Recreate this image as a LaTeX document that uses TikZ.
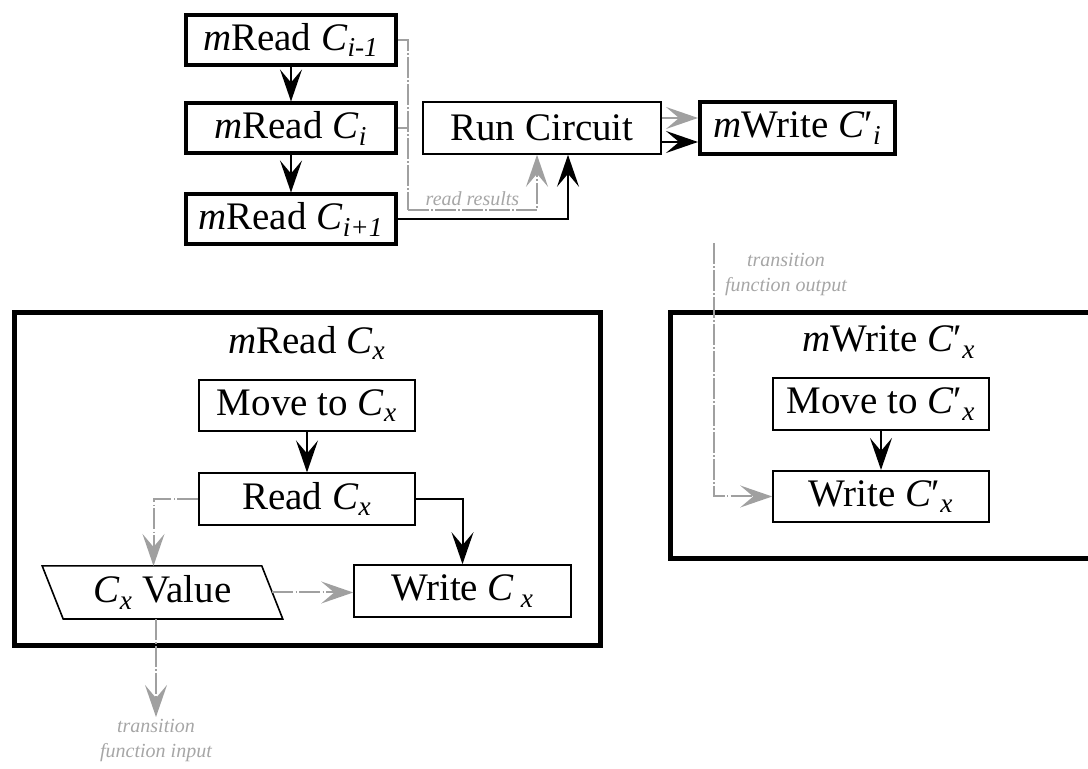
\documentclass[tikz,border=0pt]{standalone}
\usepackage{fontspec}
\setmainfont{Liberation Serif}
\usetikzlibrary{arrows.meta}
\definecolor{FlowInk}{HTML}{000000}
\definecolor{FlowGray}{HTML}{A0A0A0}
\definecolor{FlowLabel}{HTML}{A6A6A6}
\newcommand{\cx}[1]{\textit{C}\textsubscript{\textit{#1}}}
\newcommand{\cpx}[1]{\textit{C}′\textsubscript{\textit{#1}}}
\tikzset{
  stepbox/.style={draw=FlowInk,line width=0.8pt,minimum width=108pt,
    minimum height=25.75pt,inner sep=0pt,
    font=\fontsize{19.5}{22}\selectfont},
  callbox/.style={stepbox,line width=2pt,minimum width=105pt,
    minimum height=25pt},
  groupbox/.style={draw=FlowInk,line width=2.5pt},
  flow/.style={draw=FlowInk,line width=1pt,
    -{Stealth[length=16pt,width=11pt,inset=6.5pt]}},
  dataflow/.style={draw=FlowGray,line width=1pt,
    dash pattern=on 10.5pt off 1.2pt on 0.6pt off 1.2pt,
    -{Stealth[length=16pt,width=11pt,inset=6.5pt]}},
  datalink/.style={dataflow,-},
  note/.style={text=FlowLabel,font=\itshape\fontsize{10}{12.5}\selectfont,
    align=center,inner sep=0pt},
}
\begin{document}
\begin{tikzpicture}[x=0.5pt,y=-0.5pt]
  \clip (0,0) rectangle (1088,769);

  % circuit step
  \node[callbox] (rdPrev) at (291,40) {\textit{m}Read \cx{i-1}};
  \node[callbox] (rdCur) at (291,128.5) {\textit{m}Read \cx{i}};
  \node[callbox] (rdNext) at (291,219.5) {\textit{m}Read \cx{i+1}};
  \node[stepbox,minimum width=119pt,minimum height=26pt] (run) at (542,128)
    {Run Circuit};
  \node[callbox,minimum width=97.5pt,minimum height=26pt] (wrCur)
    at (797.5,128) {\textit{m}Write \cpx{i}};
  \coordinate (rdBus) at (408,210);

  \draw[flow] (rdPrev) -- (rdCur);
  \draw[flow] (rdCur) -- (rdNext);
  \draw[datalink] (rdPrev.east) -| (rdBus);
  \draw[datalink] (rdCur.east) -- (rdCur.east -| rdBus);
  \draw[dataflow] (rdBus) -| ([xshift=-2.5pt]run.south)
    node[note,pos=0.25,above=1.5pt] {read results};
  \draw[flow] (rdNext.east) -| ([xshift=13pt]run.south);
  \draw[dataflow] ([yshift=5pt]run.east) -- ([yshift=5pt]wrCur.west);
  \draw[flow] ([yshift=-7pt]run.east) -- ([yshift=-7pt]wrCur.west);

  % mRead
  \draw[groupbox] (14.5,312.5) rectangle (600.5,645.5);
  \node[stepbox,draw=none] (rdTitle) at (307,343) {\textit{m}Read \cx{x}};
  \node[stepbox] (mvX) at (307,405.5) {Move to \cx{x}};
  \node[stepbox] (rdX) at (307,499) {Read \cx{x}};
  \node[stepbox,draw=none,minimum width=109pt] (valX) at (162.5,592.5)
    {\cx{x} Value};
  \draw[FlowInk,line width=0.8pt]
    ([xshift=-5.25pt]valX.north west) -- ([xshift=-5.25pt]valX.north east)
    -- ([xshift=5.25pt]valX.south east) -- ([xshift=5.25pt]valX.south west)
    -- cycle;
  \node[stepbox,minimum width=108.5pt,minimum height=26pt] (wrX)
    at (462.5,591) {Write \textit{C}\,\textsubscript{\textit{x}}};
  \coordinate (tfIn) at (156,717);

  \draw[flow] (mvX) -- (rdX);
  \draw[dataflow] (rdX.west) -| ([xshift=-4.5pt]valX.north);
  \draw[flow] (rdX.east) -| (wrX.north);
  \draw[dataflow] (valX.east) -- (valX.east -| wrX.west);
  \draw[dataflow] (valX.south -| tfIn) -- (tfIn);
  \node[note] (tfInLbl) at (156,741) {transition\\function input};

  % mWrite
  \draw[groupbox] (670.5,312.5) rectangle (1100,558.5);
  \node[stepbox,draw=none] (wrTitle) at (889,342) {\textit{m}Write \cpx{x}};
  \node[stepbox] (mvY) at (881,404) {Move to \cpx{x}};
  \node[stepbox] (wrY) at (881,496.5) {Write \cpx{x}};
  \coordinate (tfOut) at (714,243);

  \draw[flow] (mvY) -- (wrY);
  \draw[dataflow] (tfOut) |- (wrY.west);
  \node[note] (tfOutLbl) at (786,275) {transition\\function output};
\end{tikzpicture}
\end{document}
